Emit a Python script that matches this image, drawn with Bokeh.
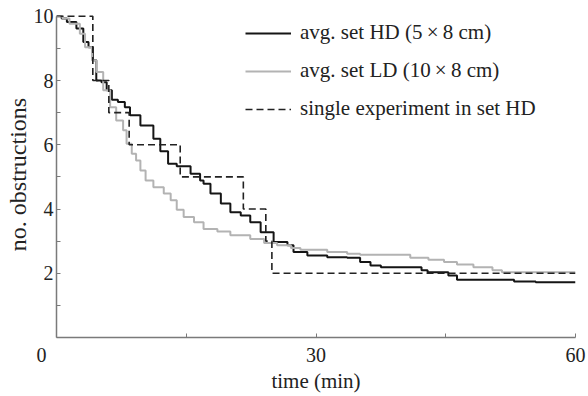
from bokeh.plotting import figure
from bokeh.models import Range1d, FixedTicker, Legend, LegendItem
from bokeh.embed import file_html
from bokeh.resources import INLINE

# ---- data ----
hd_time = [0, 0.6, 1.2, 2.3, 3.1, 3.7, 4.2, 4.6, 5.2, 5.8, 6.4, 7.1, 7.9, 8.5, 9.7,
           11.2, 12.0, 12.9, 13.9, 15.5, 16.6, 17.0, 17.8, 19.0, 20.1, 21.3, 22.4,
           23.6, 25.1, 26.7, 27.4, 29.0, 31.3, 33.6, 35.1, 36.3, 37.5, 42.2, 42.9,
           45.3, 46.3, 52.9, 55.4, 60]
hd_value = [10.0, 9.93, 9.82, 9.62, 9.2, 9.04, 8.63, 8.0, 7.95, 7.7, 7.4, 7.33, 7.17,
            6.92, 6.6, 6.19, 5.8, 5.41, 5.33, 5.1, 4.89, 4.79, 4.48, 4.17, 3.9, 3.8,
            3.59, 3.28, 2.97, 2.87, 2.66, 2.55, 2.50, 2.48, 2.35, 2.24, 2.19, 2.09,
            2.03, 1.93, 1.80, 1.74, 1.72, 1.72]

ld_time = [0, 0.7, 1.5, 2.7, 3.3, 4.1, 4.6, 5.4, 6.2, 6.9, 7.7, 8.1, 8.7, 9.2, 9.7,
           10.3, 11.2, 12.4, 13.2, 13.9, 14.7, 15.9, 17.0, 18.6, 20.1, 22.4, 24.0,
           25.5, 27.1, 28.2, 31.3, 33.6, 35.1, 40.9, 43.0, 44.8, 46.3, 48.2, 50.4,
           51.5, 60]
ld_value = [10.0, 9.93, 9.77, 9.46, 9.04, 8.63, 8.27, 7.7, 7.17, 6.76, 6.45, 6.03,
            5.72, 5.51, 5.2, 4.89, 4.68, 4.48, 4.27, 3.98, 3.75, 3.59, 3.38, 3.3,
            3.18, 3.07, 2.94, 2.87, 2.79, 2.73, 2.66, 2.61, 2.58, 2.48, 2.42, 2.35,
            2.27, 2.19, 2.09, 2.03, 2.03]

single_time = [0, 4.2, 6.05, 8.4, 14.3, 21.6, 24.2, 24.9, 60]
single_value = [10, 8, 7, 6, 5, 4, 3, 2, 2]

y_ticks = [1, 2, 3, 4, 5, 6, 7, 8, 9, 10]
y_labels = {1: "", 2: "2", 3: "", 4: "4", 5: "", 6: "6", 7: "", 8: "8", 9: "", 10: "10"}
x_ticks = [0, 15, 30, 45, 60]
# the origin label sits left of the corner in the reference (padded with en spaces)
x_labels = {0: "0\u2002\u2002\u2002", 15: "", 30: "30", 45: "", 60: "60"}

labels = ["avg. set HD (5\u2009\u00d7\u20098 cm)",
          "avg. set LD (10\u2009\u00d7\u20098 cm)",
          "single experiment in set HD"]

FONT = "Liberation Serif"
TXT = "#222222"
AX = "#7a7a7a"

p = figure(width=588, height=396, output_backend="svg", toolbar_location=None,
           x_range=Range1d(0, 60), y_range=Range1d(0, 10.15),
           min_border_left=56, min_border_right=13, min_border_top=11, min_border_bottom=59)
p.outline_line_color = None
p.grid.visible = False
p.background_fill_color = "white"

r_hd = p.step(hd_time, hd_value, mode="after", line_color="#151515", line_width=2)
r_ld = p.step(ld_time, ld_value, mode="after", line_color="#b3b3b3", line_width=2)
r_sg = p.step(single_time, single_value, mode="after", line_color="#222222",
              line_width=1.6, line_dash="7 4")

for ax in (p.xaxis[0], p.yaxis[0]):
    ax.axis_line_color = AX
    ax.axis_line_width = 1.5
    ax.major_tick_line_color = AX
    ax.minor_tick_line_color = None
    ax.major_tick_in = 4
    ax.major_tick_out = 0
    ax.major_label_text_font = FONT
    ax.major_label_text_font_size = "20px"
    ax.major_label_text_color = TXT
    ax.axis_label_text_font = FONT
    ax.axis_label_text_font_style = "normal"
    ax.axis_label_text_color = TXT

p.xaxis.ticker = FixedTicker(ticks=x_ticks)
p.xaxis.major_label_overrides = x_labels
p.xaxis.bounds = (0, 60)
p.xaxis.axis_label = "time (min)"
p.xaxis.axis_label_text_font_size = "21px"
p.xaxis.major_label_standoff = 6
p.xaxis.axis_label_standoff = 0

p.yaxis.ticker = FixedTicker(ticks=y_ticks)
p.yaxis.major_label_overrides = y_labels
p.yaxis.bounds = (0, 10)
p.yaxis.axis_label = "no. obstructions"
p.yaxis.axis_label_text_font_size = "24px"
p.yaxis.major_label_standoff = 3
p.yaxis.axis_label_standoff = 0

legend = Legend(items=[LegendItem(label=labels[0], renderers=[r_hd]),
                       LegendItem(label=labels[1], renderers=[r_ld]),
                       LegendItem(label=labels[2], renderers=[r_sg])],
                location=(189, 216), padding=0, margin=0,
                border_line_alpha=0, background_fill_alpha=0,
                glyph_width=46, glyph_height=20, label_height=20, spacing=13,
                label_standoff=9, label_text_font=FONT, label_text_font_size="21px",
                label_text_color=TXT)
p.add_layout(legend)

open("out.html", "w").write(file_html(p, INLINE))
